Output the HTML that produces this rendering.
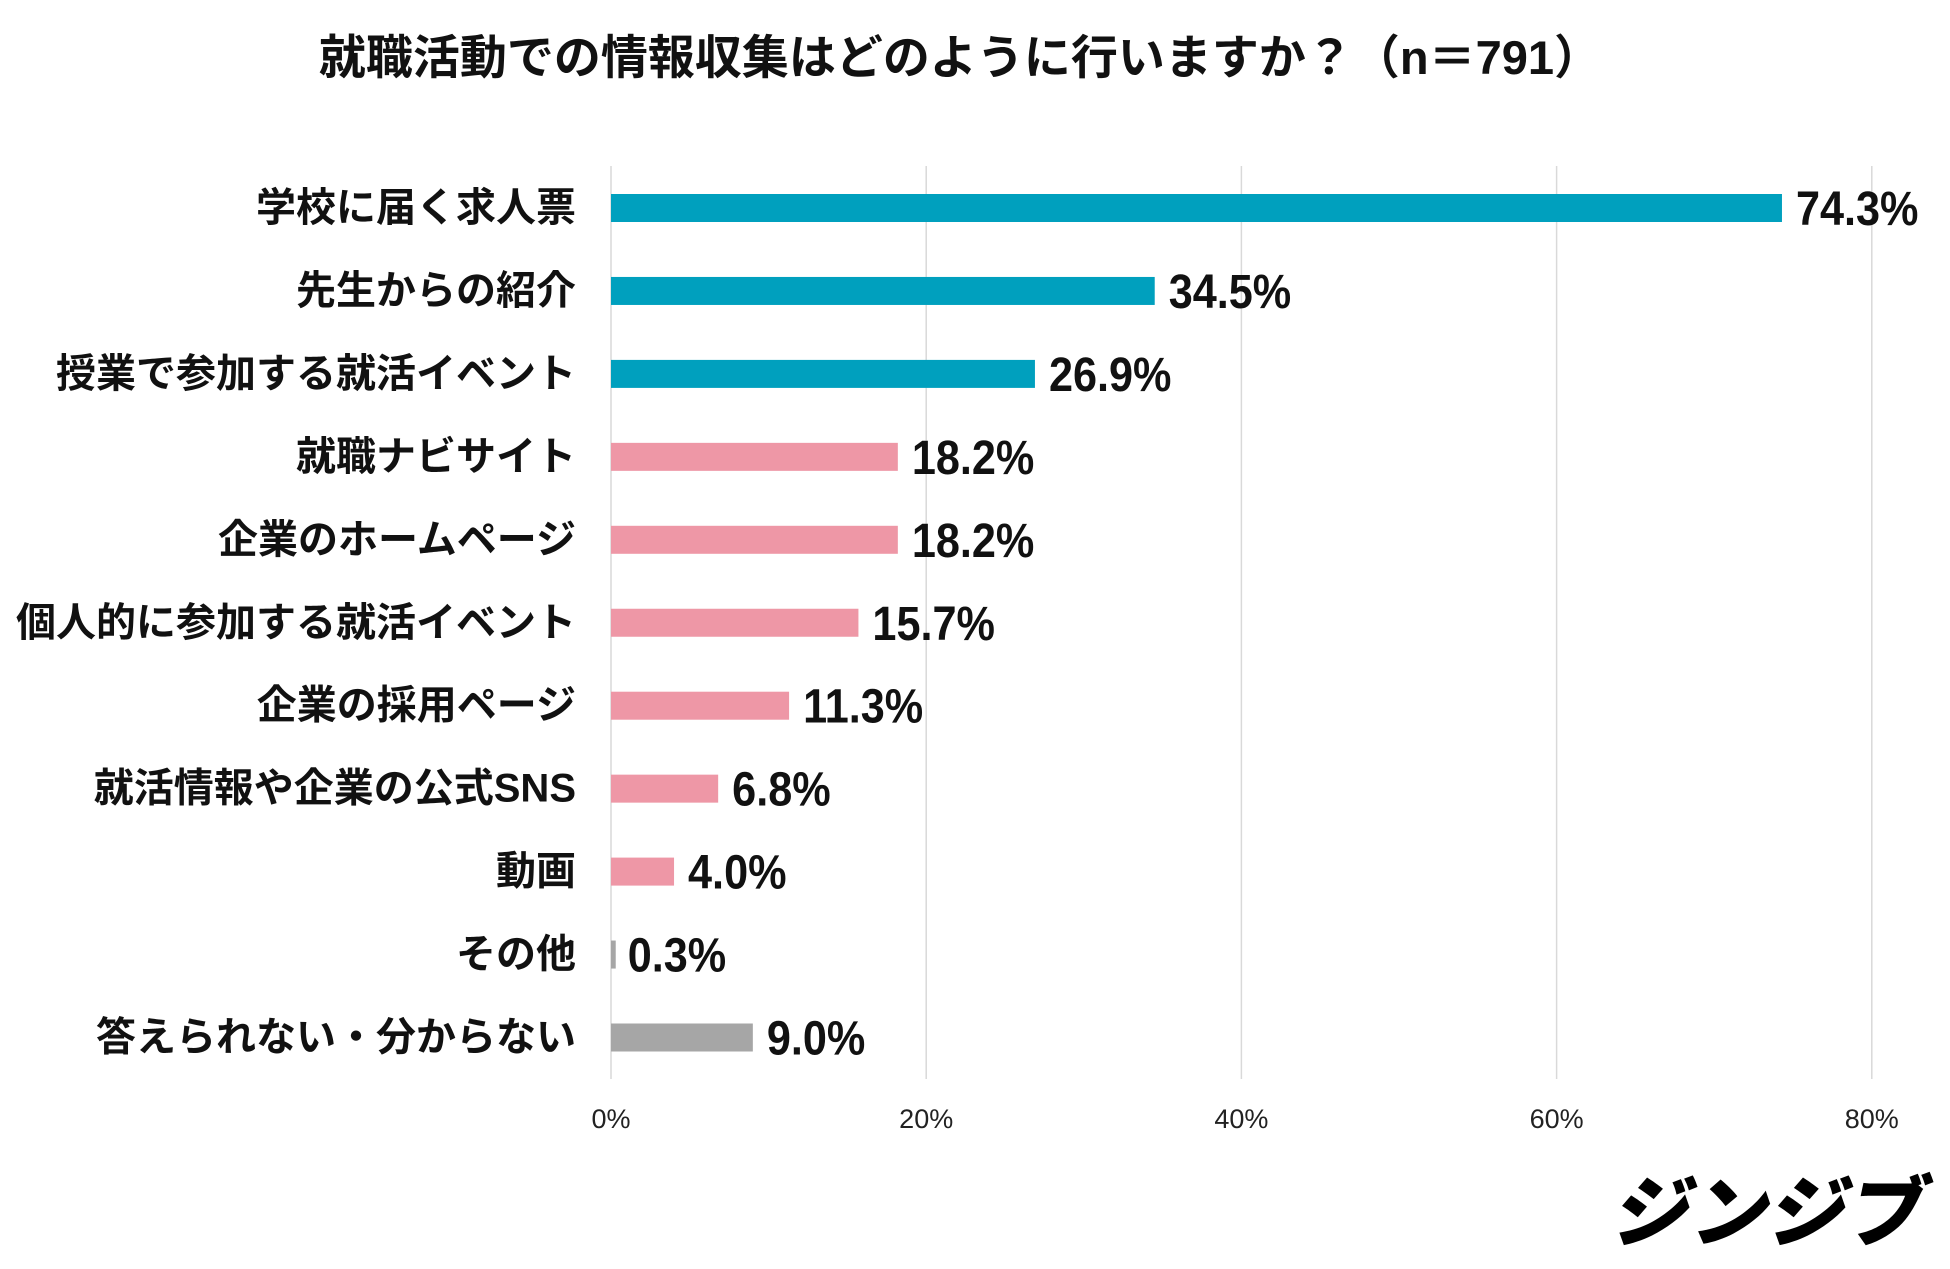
<!DOCTYPE html>
<html><head><meta charset="utf-8">
<style>
html,body{margin:0;padding:0;background:#fff;}
svg{display:block;}
.cat{font-family:"Liberation Sans","Noto Sans CJK JP",sans-serif;font-weight:bold;font-size:40px;fill:#111;}
.val{font-family:"Liberation Sans Narrow","Liberation Sans",sans-serif;font-weight:bold;font-size:48px;fill:#111;}
.tick{font-family:"Liberation Sans Narrow","Liberation Sans",sans-serif;font-size:27px;fill:#222;}
</style></head>
<body>
<svg id="chart" width="1950" height="1269" viewBox="0 0 1950 1269" xmlns="http://www.w3.org/2000/svg">
<text x="960" y="74" text-anchor="middle" font-family="'Liberation Sans','Noto Sans CJK JP',sans-serif" font-weight="bold" font-size="47" fill="#111">就職活動での情報収集はどのように行いますか？（n＝791）</text>
<g id="grid"></g>
<g id="bars"></g>
<text x="1772" y="1240" text-anchor="middle" font-family="'Noto Sans CJK JP',sans-serif" font-weight="900" font-size="78" fill="#000" transform="skewX(-12) translate(258,0)">ジンジブ</text>
</svg>
<script>
const categories=["学校に届く求人票","先生からの紹介","授業で参加する就活イベント","就職ナビサイト","企業のホームページ","個人的に参加する就活イベント","企業の採用ページ","就活情報や企業の公式SNS","動画","その他","答えられない・分からない"];
const values=[74.3,34.5,26.9,18.2,18.2,15.7,11.3,6.8,4.0,0.3,9.0];
const groups=["teal","teal","teal","pink","pink","pink","pink","pink","pink","gray","gray"];
const ticks=[0,20,40,60,80];
const colors={teal:"#00A0BE",pink:"#EE97A6",gray:"#A6A6A6"};
const NS="http://www.w3.org/2000/svg";
const x0=611,pxPer=15.76;
function xs(v){return x0+v*pxPer;}
function ys(i){return 208+i*82.95;}
const grid=document.getElementById('grid'),bars=document.getElementById('bars');
ticks.forEach(t=>{
 const l=document.createElementNS(NS,'line');
 
 
 l.setAttribute('x1',xs(t));l.setAttribute('x2',xs(t));l.setAttribute('y1',166);l.setAttribute('y2',1079);
 l.setAttribute('stroke','#d9d9d9');l.setAttribute('stroke-width','1.5');
 grid.appendChild(l);
 const tx=document.createElementNS(NS,'text');
 
 
 tx.setAttribute('x',xs(t));tx.setAttribute('y',1128);tx.setAttribute('text-anchor','middle');tx.setAttribute('class','tick');
 tx.textContent=t+'%';grid.appendChild(tx);
});
categories.forEach((c,i)=>{
 const y=ys(i);
 const lab=document.createElementNS(NS,'text');
 
 
 lab.setAttribute('x',576);lab.setAttribute('y',y+13);lab.setAttribute('text-anchor','end');lab.setAttribute('class','cat');
 lab.textContent=c;bars.appendChild(lab);
 const r=document.createElementNS(NS,'rect');
 
 
 r.setAttribute('x',x0);r.setAttribute('y',y-14);r.setAttribute('width',Math.max(values[i]*pxPer,4));r.setAttribute('height',28);
 r.setAttribute('fill',colors[groups[i]]);bars.appendChild(r);
 const v=document.createElementNS(NS,'text');
 
 
 const vx=xs(values[i])+(values[i]<1?12:14);
 v.setAttribute('x',0);v.setAttribute('y',0);
 v.setAttribute('transform','translate('+vx+','+(y+17)+') scale(0.9,1)');
 v.setAttribute('class','val');
 v.textContent=values[i].toFixed(1)+'%';bars.appendChild(v);
});
</script>
</body></html>
